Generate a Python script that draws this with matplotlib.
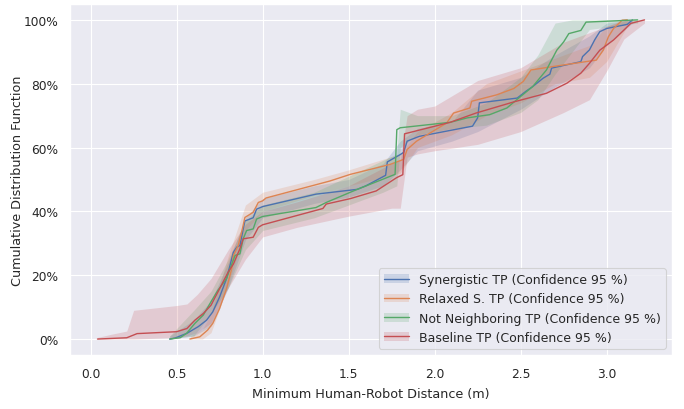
import numpy as np
import matplotlib
matplotlib.use("Agg")
import matplotlib.pyplot as plt
import seaborn as sns
from matplotlib.patches import Patch
from matplotlib.lines import Line2D
from matplotlib.ticker import PercentFormatter

sns.set_theme(context="paper", style="darkgrid")
plt.rcParams['font.family'] = ['DejaVu Sans']

labels = ["Synergistic TP (Confidence 95 %)",
          "Relaxed S. TP (Confidence 95 %)",
          "Not Neighboring TP (Confidence 95 %)",
          "Baseline TP (Confidence 95 %)"]
colors = ["#4C72B0", "#DD8452", "#55A868", "#C44E52"]

# ---- lines (x in m, y in %) ----
syn_x = [0.46, 0.49, 0.56, 0.626, 0.674, 0.71, 0.75, 0.79, 0.81, 0.83, 0.85, 0.868, 0.887, 0.897, 0.945, 0.965,
         1.0, 1.31, 1.39, 1.55, 1.60, 1.715, 1.725, 1.80, 1.82, 1.84, 1.91, 2.22, 2.25, 2.26, 2.48, 2.53, 2.57,
         2.63, 2.67, 2.68, 2.85, 2.86, 2.90, 2.93, 2.96, 3.0, 3.12, 3.15]
syn_y = [0, 0.3, 1.8, 3.9, 5.9, 8.5, 13.2, 18.9, 23, 27.2, 28.8, 29.3, 34.5, 37, 38, 40.7,
         41.5, 45.4, 45.9, 46.9, 48, 51.3, 55.5, 57.8, 58.5, 62, 63.5, 66.7, 69.3, 74, 75.5, 77.6, 79.1,
         81.7, 83, 84.9, 86.9, 88.5, 90.6, 93.7, 96.3, 97.3, 98.6, 100]

rel_x = [0.577, 0.635, 0.68, 0.71, 0.75, 0.79, 0.82, 0.83, 0.858, 0.878, 0.897, 0.945, 0.975, 1.0, 1.02,
         1.39, 1.51, 1.74, 1.82, 1.84, 1.895, 1.99, 2.07, 2.11, 2.205, 2.215, 2.36, 2.46, 2.515, 2.56, 2.69,
         2.94, 2.98, 3.01, 3.04, 3.09, 3.12]
rel_y = [0, 0.7, 2.8, 4.9, 9.6, 15.8, 22, 26.2, 29.3, 33.5, 38.1, 39.7, 42.8, 43.3, 44.2,
         49.5, 51.6, 54.7, 56.3, 59.4, 62, 65.1, 67.7, 70.8, 72.4, 74.5, 76.5, 78.5, 80.7, 84.3, 85.4,
         87.4, 90.5, 94.7, 97.3, 99.9, 100]

nn_x = [0.46, 0.52, 0.558, 0.606, 0.655, 0.70, 0.74, 0.79, 0.81, 0.84, 0.868, 0.887, 0.907, 0.945, 0.965,
        1.0, 1.31, 1.37, 1.55, 1.70, 1.77, 1.78, 1.80, 2.09, 2.19, 2.32, 2.42, 2.50, 2.57, 2.65, 2.67, 2.71,
        2.75, 2.78, 2.85, 2.88, 3.18]
nn_y = [0, 0.4, 1.8, 4.9, 7.5, 11.7, 15.3, 18.9, 22, 26.2, 26.7, 31.4, 34, 34.5, 37.6,
        38.4, 41.2, 42.8, 46.9, 50.1, 51.6, 65.6, 66.2, 67.9, 69.3, 70.3, 72.4, 76, 79.1, 84.3, 86.4, 90.5,
        93.1, 95.7, 96.7, 99.3, 100]

base_x = [0.04, 0.21, 0.27, 0.50, 0.56, 0.606, 0.655, 0.70, 0.75, 0.80, 0.83, 0.868, 0.887, 0.945, 0.975,
          1.0, 1.35, 1.37, 1.51, 1.66, 1.78, 1.815, 1.825, 2.09, 2.24, 2.46, 2.65, 2.77, 2.85, 2.90, 2.96,
          3.04, 3.10, 3.14, 3.22]
base_y = [0, 0.4, 1.7, 2.3, 3.3, 5.9, 8, 10.6, 15.8, 21, 23.5, 28.3, 31.4, 31.9, 35,
          35.8, 40.9, 42.3, 44, 46.4, 50.6, 51.5, 64.3, 67.9, 70.8, 74.3, 77, 80.2, 83.3, 86.4, 90.5,
          93.7, 96.8, 98.9, 100]

# ---- 95 % confidence bands ----
syn_bx = [0.46, 0.6, 0.7, 0.8, 0.9, 1.0, 1.3, 1.5, 1.7, 1.8, 1.9, 2.1, 2.25, 2.5, 2.7, 2.9, 3.0, 3.15]
syn_lo = [0, 1, 4, 16, 31, 38, 42.5, 44.5, 48, 53, 59, 62, 65, 72, 79, 85, 92, 99]
syn_hi = [1, 6, 12, 24, 38, 44, 48, 50, 55, 62, 66, 68, 78, 82, 89, 95, 99, 100]

rel_bx = [0.58, 0.65, 0.7, 0.8, 0.9, 1.0, 1.3, 1.5, 1.8, 1.9, 2.1, 2.3, 2.5, 2.7, 2.9, 3.0, 3.12]
rel_lo = [0, 0, 2, 17, 34, 40, 45, 48, 52, 60, 64, 70, 74, 80, 82, 87, 98]
rel_hi = [1, 3, 8, 26, 42, 46, 50, 53, 58, 65, 71, 80, 84, 88, 92, 98, 100]

nn_bx = [0.46, 0.6, 0.7, 0.8, 0.9, 1.0, 1.3, 1.5, 1.7, 1.78, 1.8, 1.9, 2.1, 2.3, 2.5, 2.6, 2.7, 2.8, 2.9, 3.18]
nn_lo = [0, 1, 8, 16, 28, 34, 38, 42, 46, 48, 60, 64, 66, 67, 71, 75, 83, 90, 97, 99]
nn_hi = [1, 9, 15, 25, 37, 42, 46, 51, 56, 58, 72, 70, 70, 74, 82, 89, 99, 100, 100, 100]

base_bx = [0.04, 0.12, 0.21, 0.25, 0.5, 0.56, 0.62, 0.7, 0.8, 0.9, 1.0, 1.2, 1.5, 1.75, 1.8, 1.84, 1.9, 2.0,
           2.25, 2.5, 2.75, 2.9, 3.0, 3.1, 3.22]
base_lo = [0, 0, 0, 0, 0.5, 1, 2, 5, 16, 25, 32, 35, 38.5, 41, 41, 57, 58, 59, 61, 65, 71, 75, 84, 94, 99]
base_hi = [0.5, 1.5, 2.5, 9, 10.5, 11, 14, 19, 28, 36, 40, 43, 48, 55, 56, 70, 72, 73, 81, 85, 93, 96, 98, 100, 100]

series = [(syn_x, syn_y, syn_bx, syn_lo, syn_hi),
          (rel_x, rel_y, rel_bx, rel_lo, rel_hi),
          (nn_x, nn_y, nn_bx, nn_lo, nn_hi),
          (base_x, base_y, base_bx, base_lo, base_hi)]

fig = plt.figure(figsize=(6.84, 4.10), dpi=100)
ax = fig.add_axes([0.1023, 0.1317, 0.8802, 0.8563])

handles = []
for (x, y, bx, lo, hi), c, lab in zip(series, colors, labels):
    ax.fill_between(bx, lo, hi, color=c, alpha=0.2, linewidth=0)
    ax.plot(x, y, color=c, lw=1.0)
    handles.append((Patch(facecolor=c, alpha=0.2, edgecolor='none'), Line2D([], [], color=c, lw=1.0)))

ax.set_xlim(-0.12, 3.38)
ax.set_ylim(-5, 105)
ax.set_xticks([0.0, 0.5, 1.0, 1.5, 2.0, 2.5, 3.0])
ax.set_yticks([0, 20, 40, 60, 80, 100])
ax.yaxis.set_major_formatter(PercentFormatter(100, decimals=0))
ax.tick_params(labelsize=8.8)
ax.set_xlabel("Minimum Human-Robot Distance (m)", fontsize=9.2)
ax.set_ylabel("Cumulative Distribution Function", fontsize=9.2)
ax.xaxis.set_label_coords(0.5, -0.091)
ax.yaxis.set_label_coords(-0.077, 0.5)
ax.legend(handles, labels, loc="lower right", fontsize=9)

fig.savefig("out.png", dpi=100)
